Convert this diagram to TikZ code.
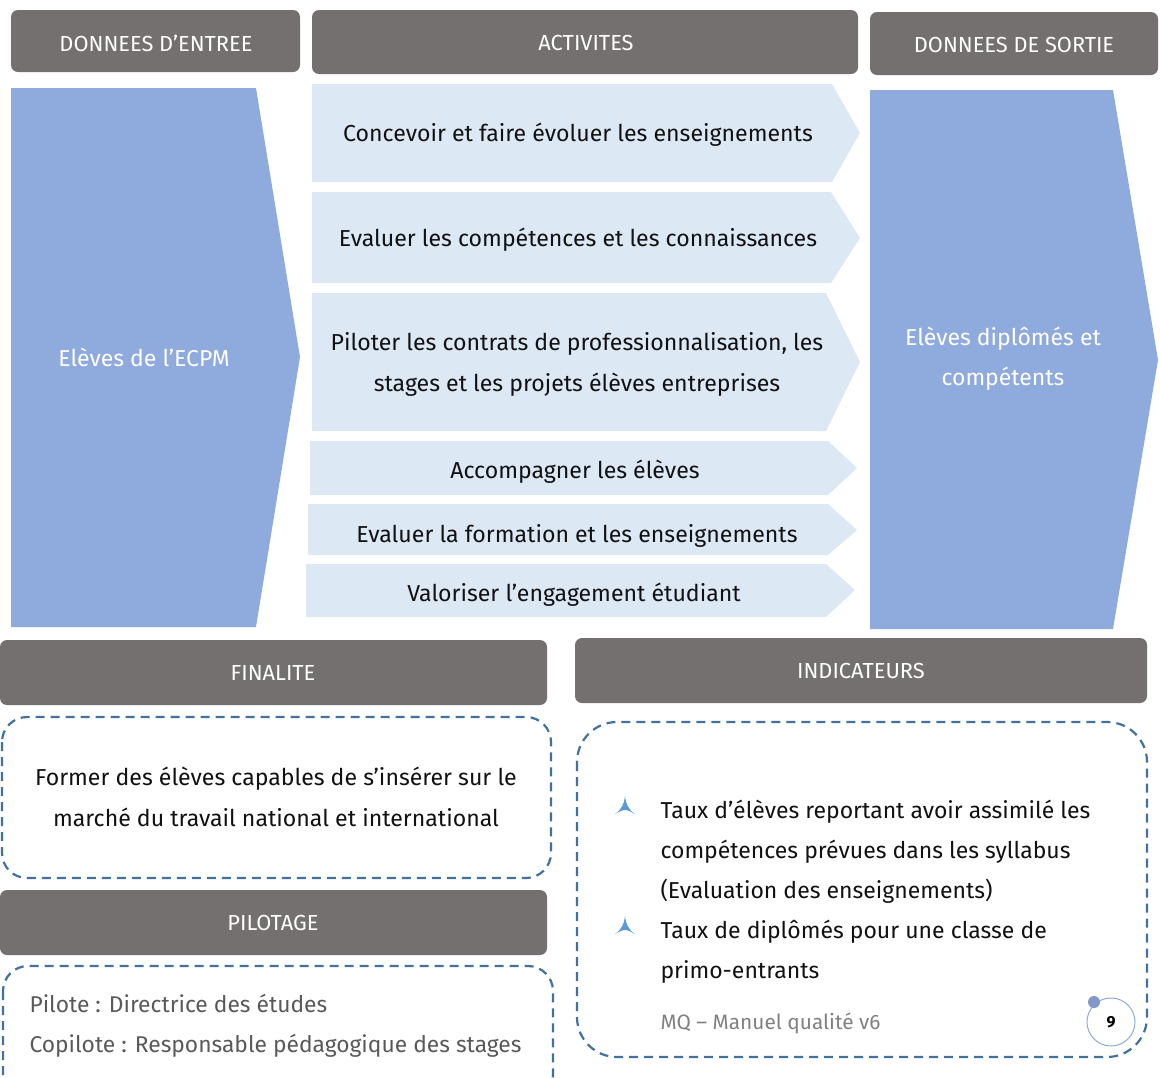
\documentclass[tikz,border=0pt]{standalone}
\usepackage{fontspec}
\setmainfont{Fira Sans}
\definecolor{hdr}{HTML}{757070}
\definecolor{bigblue}{HTML}{8FAADC}
\definecolor{light}{HTML}{DDE8F5}
\definecolor{dashc}{HTML}{41719C}
\definecolor{bul}{HTML}{5B9BD5}
\definecolor{txt}{HTML}{111111}
\definecolor{greytxt}{HTML}{595959}
\tikzset{
  hdrbox/.style={fill=hdr, rounded corners=7pt},
  hdrtext/.style={text=white, font=\fontsize{21.8}{25}\selectfont},
  chev/.style={fill=light},
  chevtext/.style={text=txt, font=\fontsize{23.1}{41}\selectfont, align=center, yshift=-2pt},
  bigarrow/.style={fill=bigblue},
  bigtext/.style={text=white, font=\fontsize{23}{40}\selectfont, align=center},
  dashbox/.style={draw=dashc, line width=2.2pt, dash pattern=on 9pt off 6pt},
  bodytext/.style={text=txt, font=\fontsize{23}{40}\selectfont, yshift=-2pt},
  bulletmark/.style={fill=bul},
}
\begin{document}
\begin{tikzpicture}[x=1pt,y=-1pt]
\useasboundingbox (0,0) rectangle (1160,1077);

% headers
\path[hdrbox] (11,10) rectangle (300,72);
\node[hdrtext] (h1) at (156,43) {DONNEES D’ENTREE};
\path[hdrbox] (312,10) rectangle (858,74);
\node[hdrtext] (h2) at (586,43) {ACTIVITES};
\path[hdrbox] (870,12) rectangle (1158,75);
\node[hdrtext] (h3) at (1014,45) {DONNEES DE SORTIE};

% big input arrow
\path[bigarrow] (11,88) -- (256,88) -- (300,357) -- (256,627) -- (11,627) -- cycle;
\node[bigtext] (in) at (144,357) {Elèves de l’ECPM};

% big output arrow
\path[bigarrow] (870,90) -- (1113,90) -- (1158,360) -- (1113,629) -- (870,629) -- cycle;
\node[bigtext] (out) at (1003,359) {Elèves diplômés et\\compétents};

% chevrons
\path[chev] (312,84) -- (832,84) -- (860,133) -- (832,182) -- (312,182) -- cycle;
\node[chevtext] (c1) at (578,133) {Concevoir et faire évoluer les enseignements};
\path[chev] (312,192) -- (831,192) -- (860,238) -- (831,283) -- (312,283) -- cycle;
\node[chevtext] (c2) at (578,238) {Evaluer les compétences et les connaissances};
\path[chev] (312,293) -- (826,293) -- (860,362) -- (826,431) -- (312,431) -- cycle;
\node[chevtext] (c3) at (577,362) {Piloter les contrats de professionnalisation, les\\stages et les projets élèves entreprises};
\path[chev] (310,441) -- (828,441) -- (857,468) -- (828,495) -- (310,495) -- cycle;
\node[chevtext] (c4) at (575,470) {Accompagner les élèves};
\path[chev] (308,504) -- (828,504) -- (857,530) -- (828,555) -- (308,555) -- cycle;
\node[chevtext] (c5) at (577,534) {Evaluer la formation et les enseignements};
\path[chev] (306,564) -- (826,564) -- (855,590) -- (826,617) -- (306,617) -- cycle;
\node[chevtext] (c6) at (574,593) {Valoriser l’engagement étudiant};

% finalite
\path[hdrbox] (0,640) rectangle (547,705);
\node[hdrtext] (hf) at (273,673) {FINALITE};
\draw[dashbox, rounded corners=25pt] (2,717) rectangle (551,878);
\node[chevtext, yshift=2pt] (fin) at (276,797) {Former des élèves capables de s’insérer sur le\\marché du travail national et international};

% pilotage
\path[hdrbox] (0,890) rectangle (547,955);
\node[hdrtext] (hp) at (273,923) {PILOTAGE};
\draw[dashbox, rounded corners=25pt] (3,966) rectangle (553,1100);
\node[text=greytxt, font=\fontsize{22.8}{40}\selectfont, anchor=west, align=left, yshift=-2pt] (pil) at (26,1024) {Pilote : Directrice des études\\Copilote : Responsable pédagogique des stages};

% indicateurs
\path[hdrbox] (575,638) rectangle (1147,703);
\node[hdrtext] (hi) at (861,671) {INDICATEURS};
\draw[dashbox, rounded corners=40pt] (577,722) rectangle (1147,1057);
\node[bodytext, anchor=west, align=left] (ind1) at (657,850) {Taux d’élèves reportant avoir assimilé les\\compétences prévues dans les syllabus\\(Evaluation des enseignements)};
\node[bodytext, anchor=west, align=left] (ind2) at (657,950) {Taux de diplômés pour une classe de\\primo-entrants};
\foreach \yy in {0,120} {
  \path[bulletmark] (625,796+\yy) .. controls (626,804+\yy) and (628,809+\yy) .. (635,814+\yy)
     .. controls (630,811+\yy) and (627,810+\yy) .. (625,810+\yy)
     .. controls (623,810+\yy) and (620,811+\yy) .. (615,814+\yy)
     .. controls (622,809+\yy) and (624,804+\yy) .. (625,796+\yy) -- cycle;
}
\node[text=gray, font=\fontsize{20.8}{23}\selectfont, anchor=west] (mq) at (657,1023) {MQ – Manuel qualité v6};

% page number
\node[circle, draw=bigblue, fill=white, line width=1pt, minimum size=48pt, inner sep=0pt, font=\bfseries\fontsize{16}{18}\selectfont] (pg) at (1111,1022) {9};
\node[circle, fill=bigblue!90!black, minimum size=12pt, inner sep=0pt] (dot) at (1094,1002) {};
\end{tikzpicture}
\end{document}
